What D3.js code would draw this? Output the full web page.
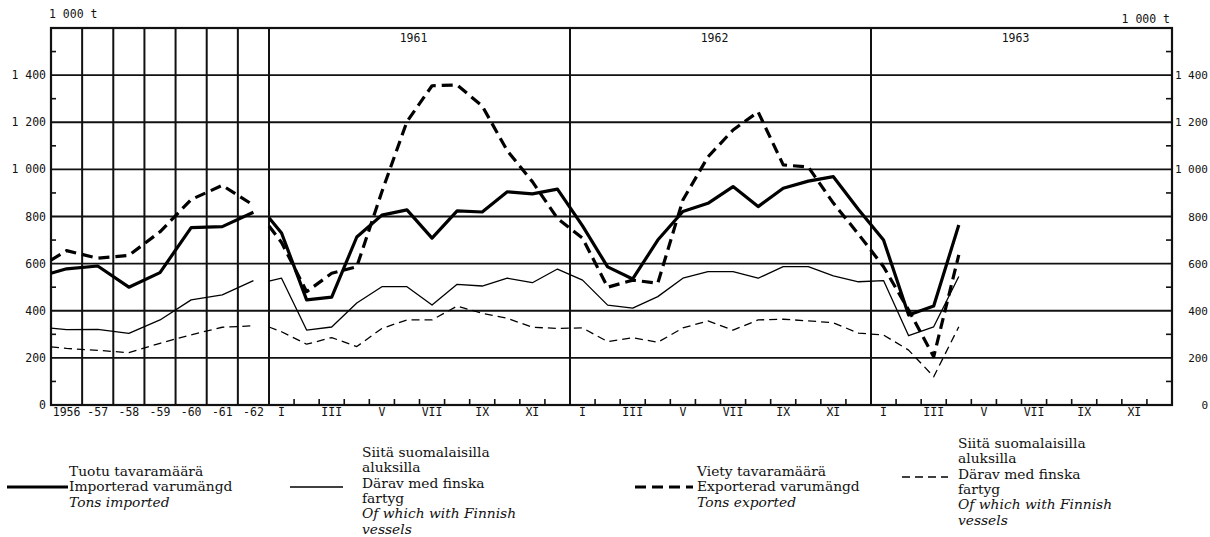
<!DOCTYPE html>
<html>
<head>
<meta charset="utf-8">
<script src="https://cdn.jsdelivr.net/npm/d3@7"></script>
<style>
html,body{margin:0;padding:0;background:#fff;}
svg{display:block;}
.mono{font-family:"DejaVu Sans Mono",monospace;fill:#111;}
.serif{font-family:"DejaVu Serif",serif;fill:#111;}
</style>
</head>
<body>
<svg id="chart" width="1210" height="537"></svg>
<script>
// ---------- DATA (thousand tonnes) ----------
const years = ["1956","-57","-58","-59","-60","-61","-62"];
const monthYears = ["1961","1962","1963"];
const monthLabels = ["I","","III","","V","","VII","","IX","","XI",""];
const yTicks = [0,200,400,600,800,1000,1200,1400];
const yTickLabels = ["0","200","400","600","800","1 000","1 200","1 400"];

// annual values 1956–1962 (value drawn at column centre), plus the value where each line begins at the left edge
const importsAnnual    = [578, 590, 500, 562, 753, 757, 818];
const importsFinAnnual = [320, 321, 304, 361, 446, 467, 528];
const exportsAnnual    = [655, 623, 635, 735, 872, 932, 848];
const exportsFinAnnual = [240, 232, 222, 262, 298, 330, 336];
const annualStart      = [559, 326, 615, 247];   // imports, importsFin, exports, exportsFin

// monthly values Jan 1961 – Apr 1963, plus the value where each line begins at the 1961 edge
const importsMonthly    = [730,446,458,713,806,828,708,824,819,905,896,916,
                           760,586,535,700,821,856,927,842,920,950,969,830,
                           700,382,420,764];
const importsFinMonthly = [538,318,331,433,502,502,424,512,505,538,519,577,
                           530,424,411,460,538,566,566,538,587,587,548,523,
                           528,294,332,545];
const exportsMonthly    = [690,481,559,587,905,1203,1355,1358,1269,1079,948,792,
                           708,500,530,517,870,1053,1167,1244,1019,1010,857,725,
                           587,403,205,637];
const exportsFinMonthly = [311,258,286,248,325,361,361,420,389,368,330,325,
                           327,269,286,266,327,357,318,361,364,357,349,305,
                           297,233,120,332];
const monthlyStart      = [795, 526, 760, 331];

const legendGroups = [
  {lines:["Tuotu tavaramäärä","Importerad varumängd","Tons imported"], italic:[2]},
  {lines:["Siitä suomalaisilla","aluksilla","Därav med finska","fartyg","Of which with Finnish","vessels"], italic:[4,5]},
  {lines:["Viety tavaramäärä","Exporterad varumängd","Tons exported"], italic:[2]},
  {lines:["Siitä suomalaisilla","aluksilla","Därav med finska","fartyg","Of which with Finnish","vessels"], italic:[4,5]}
];

// ---------- STYLES ----------
const styles = [
  {w:3.2, dash:null},        // imports
  {w:1.3, dash:null},        // imports Finnish
  {w:3.2, dash:"11,6"},      // exports
  {w:1.3, dash:"8,5"}        // exports Finnish
];

// ---------- LAYOUT ----------
const L = 51, R = 1172, T = 28, B = 405;
const svg = d3.select("#chart");
const y = d3.scaleLinear().domain([0,1600]).range([B,T]);
const xA = d3.scaleLinear().domain([0, years.length]).range([L, 269]);
const xM = d3.scaleLinear().domain([0, 36]).range([269, R]);

const g = svg.append("g");

// horizontal grid
g.selectAll("line.hg").data(yTicks.filter(v=>v>0)).join("line")
  .attr("x1",L).attr("x2",R).attr("y1",d=>y(d)).attr("y2",d=>y(d))
  .attr("stroke","#111").attr("stroke-width",1.8);

// annual vertical separators
g.selectAll("line.va").data(d3.range(1, years.length)).join("line")
  .attr("x1",d=>xA(d)).attr("x2",d=>xA(d)).attr("y1",T).attr("y2",B)
  .attr("stroke","#111").attr("stroke-width",2);

// year separators for monthly part
g.selectAll("line.vy").data([0,12,24]).join("line")
  .attr("x1",d=>xM(d)).attr("x2",d=>xM(d)).attr("y1",T).attr("y2",B)
  .attr("stroke","#111").attr("stroke-width",2);

// month ticks at bottom
g.selectAll("line.mt").data(d3.range(1,36).filter(d=>d%12!==0)).join("line")
  .attr("x1",d=>xM(d)).attr("x2",d=>xM(d)).attr("y1",B).attr("y2",B-6)
  .attr("stroke","#111").attr("stroke-width",1.6);

// minor y ticks (inside) left & right
const minor = d3.range(100,1600,200);
g.selectAll("line.ml").data(minor).join("line")
  .attr("x1",L).attr("x2",L+5).attr("y1",d=>y(d)).attr("y2",d=>y(d))
  .attr("stroke","#111").attr("stroke-width",1.6);
g.selectAll("line.mr").data(minor).join("line")
  .attr("x1",R).attr("x2",R-6).attr("y1",d=>y(d)).attr("y2",d=>y(d))
  .attr("stroke","#111").attr("stroke-width",1.6);

// border
g.append("rect").attr("x",L).attr("y",T).attr("width",R-L).attr("height",B-T)
  .attr("fill","none").attr("stroke","#111").attr("stroke-width",2.2);

// ---------- SERIES ----------
const line = d3.line().x(d=>d[0]).y(d=>y(d[1]));
const annualSets = [importsAnnual, importsFinAnnual, exportsAnnual, exportsFinAnnual];
const monthlySets = [importsMonthly, importsFinMonthly, exportsMonthly, exportsFinMonthly];

annualSets.forEach((arr,k)=>{
  const pts = [[xA(0), annualStart[k]]].concat(arr.map((v,i)=>[xA(i+0.5), v]));
  g.append("path").attr("d",line(pts)).attr("fill","none")
    .attr("stroke","#000").attr("stroke-width",styles[k].w)
    .attr("stroke-dasharray",styles[k].dash).attr("stroke-linejoin","round");
});
monthlySets.forEach((arr,k)=>{
  const pts = [[xM(0), monthlyStart[k]]].concat(arr.map((v,i)=>[xM(i+0.5), v]));
  g.append("path").attr("d",line(pts)).attr("fill","none")
    .attr("stroke","#000").attr("stroke-width",styles[k].w)
    .attr("stroke-dasharray",styles[k].dash).attr("stroke-linejoin","round");
});

// ---------- TEXT ----------
// y labels left
g.selectAll("text.yl").data(yTicks).join("text").attr("class","mono")
  .attr("x",46).attr("y",d=>y(d)+4).attr("text-anchor","end")
  .attr("font-size",11.5).text((d,i)=>yTickLabels[i]);
// y labels right
g.selectAll("text.yr").data(yTicks).join("text").attr("class","mono")
  .attr("x",1208).attr("y",d=>y(d)+4).attr("text-anchor","end")
  .attr("font-size",11).text((d,i)=>yTickLabels[i]);
// units
g.append("text").attr("class","mono").attr("x",49).attr("y",18).attr("font-size",11.5).text("1 000 t");
g.append("text").attr("class","mono").attr("x",1170).attr("y",23).attr("text-anchor","end").attr("font-size",11.5).text("1 000 t");

// annual labels
g.selectAll("text.ya").data(years).join("text").attr("class","mono")
  .attr("x",(d,i)=>xA(i+0.5)).attr("y",416).attr("text-anchor","middle")
  .attr("font-size",11.5).text(d=>d);

// month labels
const monthPts = [];
monthYears.forEach((yy,j)=>monthLabels.forEach((m,i)=>{ if(m) monthPts.push({m, i:j*12+i}); }));
g.selectAll("text.mlab").data(monthPts).join("text").attr("class","mono")
  .attr("x",d=>xM(d.i+0.5)).attr("y",416).attr("text-anchor","middle")
  .attr("font-size",11.5).text(d=>d.m);

// year labels at top of monthly part
g.selectAll("text.yt").data(monthYears).join("text").attr("class","mono")
  .attr("x",(d,j)=>xM(j*12+6)-6).attr("y",42).attr("text-anchor","middle")
  .attr("font-size",11.5).text(d=>d);

// ---------- LEGEND ----------
const legPos = [
  {x:69,  y:476, lx1:7,   lx2:68,  ly:487},
  {x:362, y:457, lx1:290, lx2:343, ly:487},
  {x:697, y:476, lx1:635, lx2:693, ly:487},
  {x:958, y:448, lx1:902, lx2:948, ly:477}
];
legendGroups.forEach((grp,k)=>{
  const p = legPos[k];
  const t = g.append("text").attr("class","serif").attr("font-size",13.8);
  grp.lines.forEach((s,i)=>{
    t.append("tspan").attr("x",p.x).attr("y",p.y + i*15.3)
      .attr("font-style",grp.italic.includes(i)?"italic":"normal").text(s);
  });
  g.append("line").attr("x1",p.lx1).attr("x2",p.lx2).attr("y1",p.ly).attr("y2",p.ly)
    .attr("stroke","#000").attr("stroke-width",styles[k].w)
    .attr("stroke-dasharray",styles[k].dash);
});
</script>
</body>
</html>
